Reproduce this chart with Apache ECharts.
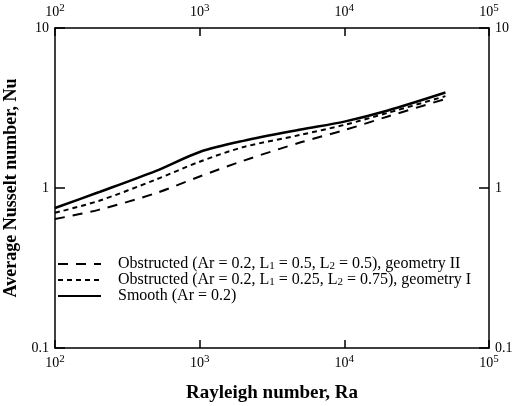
<!DOCTYPE html>
<html>
<head>
<meta charset="utf-8">
<script src="https://cdn.jsdelivr.net/npm/echarts@6/dist/echarts.min.js"></script>
<style>
  html, body { margin: 0; padding: 0; background: #fff; }
  #chart { width: 517px; height: 406px; }
</style>
</head>
<body>
<div id="chart"></div>
<script>
// Rayleigh numbers
const rayleigh = [100, 200, 500, 1000, 2000, 5000, 10000, 20000, 50000];
// Average Nusselt number, one array per curve
const obstructedII = [0.64, 0.73, 0.93, 1.18, 1.48, 1.93, 2.30, 2.80, 3.60];
const obstructedI = [0.70, 0.83, 1.13, 1.46, 1.80, 2.15, 2.48, 2.95, 3.75];
const smooth = [0.75, 0.94, 1.28, 1.68, 1.97, 2.32, 2.60, 3.05, 3.95];
const seriesNames = ['obstructedII', 'obstructedI', 'smooth'];
const legendLabels = {
  obstructedII: 'Obstructed (Ar = 0.2, L{sub|1} = 0.5, L{sub|2} = 0.5), geometry II',
  obstructedI: 'Obstructed (Ar = 0.2, L{sub|1} = 0.25, L{sub|2} = 0.75), geometry I',
  smooth: 'Smooth (Ar = 0.2)'
};

const font = 'Liberation Serif';
const pairs = (ys) => rayleigh.map((x, i) => [x, ys[i]]);

const powerLabel = (v) => '10{sup|' + Math.round(Math.log10(v)) + '}';
const powerRich = {
  sup: { fontFamily: font, fontSize: 11, verticalAlign: 'top', padding: [0, 0, 8, 0], color: '#000' }
};

const xBase = {
  type: 'log', logBase: 10, min: 100, max: 100000,
  axisLine: { show: true, lineStyle: { color: '#000', width: 1.5 } },
  axisTick: { show: true, inside: true, length: 8, lineStyle: { color: '#000', width: 1.5 } },
  minorTick: { show: false },
  splitLine: { show: false },
  axisLabel: {
    fontFamily: font, fontSize: 14, color: '#000', margin: 6,
    formatter: powerLabel, rich: powerRich
  }
};
const yBase = {
  type: 'log', logBase: 10, min: 0.1, max: 10,
  axisLine: { show: true, lineStyle: { color: '#000', width: 1.5 } },
  axisTick: { show: true, inside: true, length: 10, lineStyle: { color: '#000', width: 1.5 } },
  minorTick: { show: false },
  splitLine: { show: false },
  axisLabel: {
    fontFamily: font, fontSize: 14, color: '#000', margin: 6,
    formatter: (v) => (v < 1 ? '0.1' : String(Math.round(v)))
  }
};

const chart = echarts.init(document.getElementById('chart'));
chart.setOption({
  animation: false,
  backgroundColor: '#fff',
  grid: { left: 55, right: 28, top: 28, bottom: 58, outerBoundsMode: 'none', containLabel: false },
  xAxis: [
    Object.assign({}, xBase, {
      position: 'bottom',
      name: 'Rayleigh number, Ra', nameLocation: 'middle', nameGap: 36,
      nameTextStyle: { fontFamily: font, fontSize: 19, fontWeight: 'bold', color: '#000' }
    }),
    Object.assign({}, xBase, { position: 'top' })
  ],
  yAxis: [
    Object.assign({}, yBase, {
      position: 'left',
      name: 'Average Nusselt number, Nu', nameLocation: 'middle', nameGap: 27,
      nameTextStyle: { fontFamily: font, fontSize: 18, fontWeight: 'bold', color: '#000' }
    }),
    Object.assign({}, yBase, { position: 'right' })
  ],
  legend: {
    orient: 'vertical', left: 52, top: 251, itemGap: 0,
    itemWidth: 43, itemHeight: 10,
    itemStyle: { opacity: 0 },
    data: seriesNames,
    formatter: (name) => legendLabels[name],
    textStyle: {
      fontFamily: font, fontSize: 16, color: '#000', lineHeight: 16,
      padding: [0, 0, 0, 12],
      rich: { sub: { fontFamily: font, fontSize: 11, verticalAlign: 'bottom', padding: [7, 0, 0, 0], color: '#000' } }
    }
  },
  series: [
    {
      name: 'obstructedII', type: 'line', data: pairs(obstructedII),
      showSymbol: false, symbol: 'none', smooth: 0.3,
      lineStyle: { color: '#000', width: 2, type: [10, 8] }
    },
    {
      name: 'obstructedI', type: 'line', data: pairs(obstructedI),
      showSymbol: false, symbol: 'none', smooth: 0.3,
      lineStyle: { color: '#000', width: 2, type: [5, 4] }
    },
    {
      name: 'smooth', type: 'line', data: pairs(smooth),
      showSymbol: false, symbol: 'none', smooth: 0.3,
      lineStyle: { color: '#000', width: 2.5, type: 'solid' }
    }
  ]
});
window.addEventListener('resize', () => chart.resize());
</script>
</body>
</html>
